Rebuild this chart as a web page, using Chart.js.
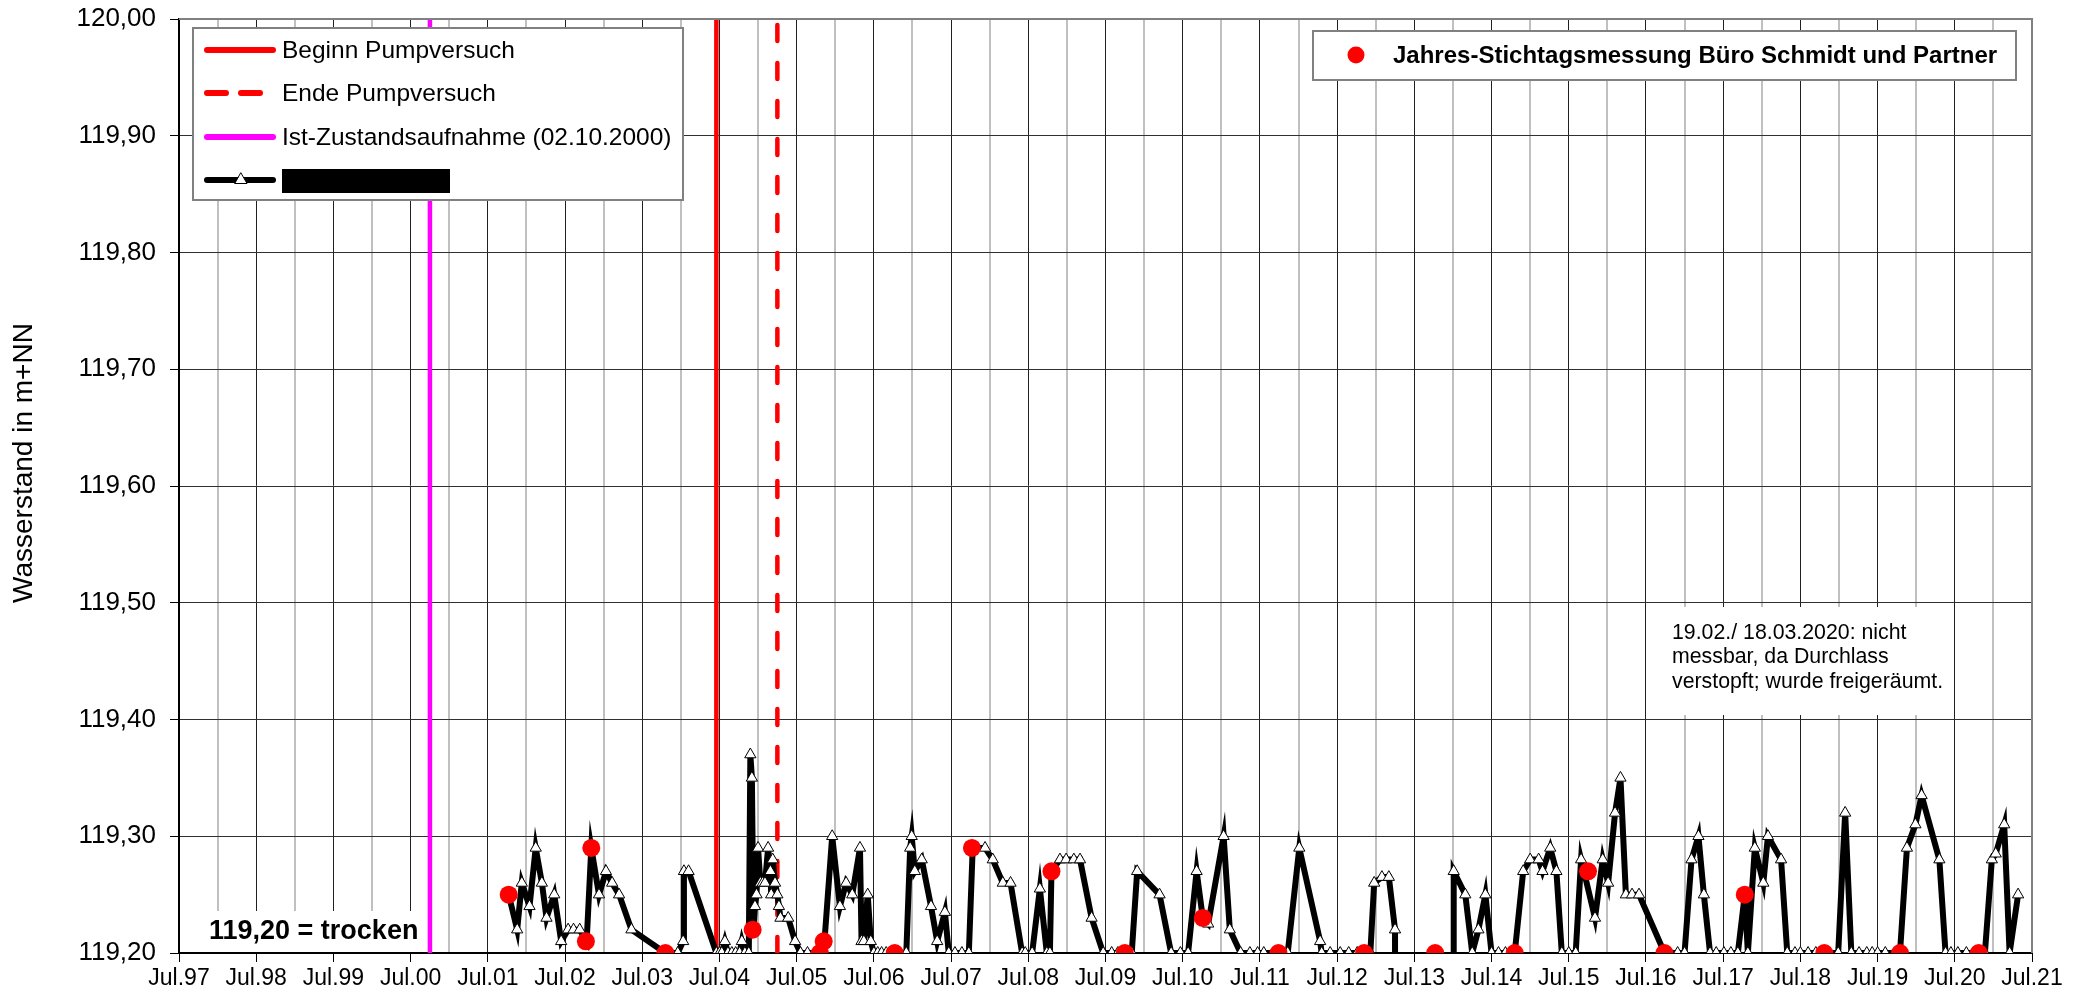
<!DOCTYPE html>
<html lang="de">
<head>
<meta charset="utf-8">
<title>Wasserstand</title>
<script src="https://cdn.jsdelivr.net/npm/chart.js@4.4.1/dist/chart.umd.min.js"></script>
<style>
  html, body { margin: 0; padding: 0; background: #fff; }
  #wrap { width: 2089px; height: 997px; }
</style>
</head>
<body>
<div id="wrap"><canvas id="chart" width="2089" height="997"></canvas></div>
<script>
// --- Daten (Datum als Dezimaljahr, Jul = x.5) ---
const messDatum = [
  2001.77, 2001.88, 2001.94, 2002.04, 2002.12, 2002.20, 2002.26, 2002.36, 2002.45, 2002.54,
  2002.61, 2002.69, 2002.78, 2002.84, 2002.94, 2003.03, 2003.11, 2003.20, 2003.36, 2003.80,
  2003.96, 2004.03, 2004.04, 2004.10, 2004.46, 2004.50, 2004.53, 2004.57, 2004.61, 2004.66,
  2004.71, 2004.76, 2004.79, 2004.83, 2004.88, 2004.90, 2004.92, 2004.94, 2004.96, 2004.98,
  2005.00, 2005.03, 2005.06, 2005.09, 2005.13, 2005.16, 2005.17, 2005.19, 2005.22, 2005.25,
  2005.27, 2005.29, 2005.39, 2005.48, 2005.55, 2005.64, 2005.80, 2005.86, 2005.96, 2006.06,
  2006.14, 2006.22, 2006.32, 2006.34, 2006.37, 2006.42, 2006.46, 2006.50, 2006.55, 2006.60,
  2006.66, 2006.78, 2006.92, 2006.97, 2006.99, 2007.03, 2007.12, 2007.24, 2007.32, 2007.42,
  2007.47, 2007.55, 2007.64, 2007.73, 2007.78, 2007.94, 2008.04, 2008.17, 2008.27, 2008.42,
  2008.46, 2008.55, 2008.65, 2008.74, 2008.78, 2008.80, 2008.91, 2008.99, 2009.09, 2009.17,
  2009.32, 2009.47, 2009.58, 2009.66, 2009.75, 2009.84, 2009.91, 2010.20, 2010.35, 2010.47,
  2010.57, 2010.68, 2010.76, 2010.83, 2011.03, 2011.11, 2011.25, 2011.37, 2011.47, 2011.55,
  2011.74, 2011.86, 2012.01, 2012.28, 2012.30, 2012.41, 2012.54, 2012.65, 2012.76, 2012.85,
  2012.93, 2012.98, 2013.08, 2013.17, 2013.25, 2013.25, 2013.60, 2014.01, 2014.01, 2014.16,
  2014.25, 2014.33, 2014.42, 2014.50, 2014.59, 2014.68, 2014.75, 2014.80, 2014.91, 2015.00,
  2015.11, 2015.16, 2015.26, 2015.34, 2015.41, 2015.50, 2015.59, 2015.66, 2015.84, 2015.94,
  2016.01, 2016.10, 2016.17, 2016.24, 2016.32, 2016.41, 2016.74, 2016.91, 2017.00, 2017.09,
  2017.18, 2017.25, 2017.33, 2017.41, 2017.51, 2017.60, 2017.69, 2017.78, 2017.82, 2017.91,
  2018.02, 2018.08, 2018.25, 2018.33, 2018.43, 2018.50, 2018.60, 2018.70, 2018.81, 2018.99,
  2019.08, 2019.16, 2019.26, 2019.36, 2019.43, 2019.50, 2019.60, 2019.79, 2019.88, 2019.99,
  2020.07, 2020.30, 2020.38, 2020.45, 2020.54, 2020.65, 2020.81, 2020.89, 2020.98, 2021.03,
  2021.14, 2021.21, 2021.32
];
const wasserstand = [
  119.25, 119.22, 119.26, 119.24, 119.29, 119.26, 119.23, 119.25, 119.21, 119.22,
  119.22, 119.22, 119.21, 119.29, 119.25, 119.27, 119.26, 119.25, 119.22, 119.20,
  119.20, 119.21, 119.27, 119.27, 119.20, 119.20, 119.20, 119.21, 119.20, 119.20,
  119.20, 119.20, 119.21, 119.20, 119.20, 119.37, 119.35, 119.22, 119.24, 119.25,
  119.29, 119.26, 119.26, 119.26, 119.29, 119.27, 119.25, 119.28, 119.26, 119.25,
  119.24, 119.23, 119.23, 119.21, 119.20, 119.20, 119.20, 119.21, 119.30, 119.24,
  119.26, 119.25, 119.29, 119.21, 119.21, 119.25, 119.21, 119.20, 119.20, 119.20,
  119.20, 119.20, 119.20, 119.29, 119.30, 119.27, 119.28, 119.24, 119.21, 119.235,
  119.20, 119.20, 119.20, 119.20, 119.29, 119.29, 119.28, 119.26, 119.26, 119.20,
  119.20, 119.20, 119.255, 119.20, 119.20, 119.27, 119.28, 119.28, 119.28, 119.28,
  119.23, 119.20, 119.20, 119.20, 119.20, 119.20, 119.27, 119.25, 119.20, 119.20,
  119.20, 119.27, 119.23, 119.225, 119.30, 119.22, 119.20, 119.20, 119.20, 119.20,
  119.20, 119.20, 119.29, 119.21, 119.20, 119.20, 119.20, 119.20, 119.20, 119.20,
  119.20, 119.26, 119.265, 119.265, 119.22, 119.20, null, 119.20, 119.27, 119.25,
  119.20, 119.22, 119.25, 119.20, 119.20, 119.20, 119.20, 119.20, 119.27, 119.28,
  119.28, 119.27, 119.29, 119.27, 119.20, 119.20, 119.20, 119.28, 119.23, 119.28,
  119.26, 119.32, 119.35, 119.25, 119.25, 119.25, 119.20, 119.20, 119.20, 119.28,
  119.30, 119.25, 119.20, 119.20, 119.20, 119.20, 119.20, 119.25, 119.20, 119.29,
  119.26, 119.30, 119.28, 119.20, 119.20, 119.20, 119.20, 119.20, 119.20, 119.20,
  119.32, 119.20, 119.20, 119.20, 119.20, 119.20, 119.20, 119.20, 119.29, 119.31,
  119.335, 119.28, 119.20, 119.20, 119.20, 119.20, 119.20, 119.20, 119.28, 119.285,
  119.31, 119.20, 119.25
];

// Jahres-Stichtagsmessung Büro Schmidt und Partner
const stichtagDatum = [
  2001.77, 2002.77, 2002.84, 2003.80, 2004.93, 2005.80, 2005.85, 2006.77, 2007.77, 2008.80,
  2009.75, 2010.76, 2011.74, 2012.85, 2013.77, 2014.80, 2015.75, 2016.74, 2017.78, 2018.81,
  2019.79, 2020.81
];
const stichtagWert = [
  119.25, 119.21, 119.29, 119.20, 119.22, 119.20, 119.21, 119.20, 119.29, 119.27,
  119.20, 119.23, 119.20, 119.20, 119.20, 119.20, 119.27, 119.20, 119.25, 119.20,
  119.20, 119.20
];

// Ereignisse (senkrechte Linien)
const istZustand = 2000.75;      // 02.10.2000
const beginnPumpversuch = 2004.46;
const endePumpversuch = 2005.25;

const yMin = 119.2, yMax = 120.0;
const xMin = 1997.5, xMax = 2021.5;

const yTitel = "Wasserstand in m+NN";
const trockenText = "119,20 = trocken";
const notizZeilen = [
  "19.02./ 18.03.2020: nicht",
  "messbar, da Durchlass",
  "verstopft; wurde freigeräumt."
];
const legendeLinks = [
  "Beginn Pumpversuch",
  "Ende Pumpversuch",
  "Ist-Zustandsaufnahme (02.10.2000)"
];
const legendeRechts = "Jahres-Stichtagsmessung Büro Schmidt und Partner";

const FONT = '"Liberation Sans", Arial, sans-serif';

// --- Datensätze aufbauen ---
const messPunkte = messDatum.map((d, i) => ({ x: d, y: wasserstand[i] }));
const stichtagPunkte = stichtagDatum.map((d, i) => ({ x: d, y: stichtagWert[i] }));
const senkrecht = (x) => [{ x: x, y: yMin }, { x: x, y: yMax }];

// Punkte am Rand einer Lücke ohne Marker
function dreieckRadius(ctx) {
  const d = ctx.dataset.data;
  const i = ctx.dataIndex;
  const vor = d[i - 1], nach = d[i + 1];
  if ((vor && vor.y === null) || (nach && nach.y === null)) return 0;
  return 6.5;
}

const istJuli = (v) => Math.abs((v % 1) - 0.5) < 1e-6;

// --- Zusätzliche Zeichnungen: Legenden, Texte, Rahmen ---
const deko = {
  id: "deko",
  beforeDatasetsDraw(chart) {
    const ctx = chart.ctx;
    ctx.save();
    ctx.fillStyle = "#fff";
    ctx.fillRect(191, 911, 236, 41);
    ctx.fillStyle = "#000";
    ctx.font = "bold 27px " + FONT;
    ctx.textBaseline = "middle";
    ctx.fillText(trockenText, 209, 932);

    ctx.fillStyle = "#fff";
    ctx.fillRect(1650, 607, 300, 108);
    ctx.fillStyle = "#000";
    ctx.font = "21.3px " + FONT;
    notizZeilen.forEach((z, i) => ctx.fillText(z, 1672, 633 + i * 24.5));
    ctx.restore();
  },
  afterDraw(chart) {
    const ctx = chart.ctx;
    const a = chart.chartArea;
    ctx.save();

    // Achsentitel
    ctx.save();
    ctx.translate(24, 463);
    ctx.rotate(-Math.PI / 2);
    ctx.fillStyle = "#000";
    ctx.font = "28px " + FONT;
    ctx.textAlign = "center";
    ctx.textBaseline = "middle";
    ctx.fillText(yTitel, 0, 0);
    ctx.restore();

    // Rahmen oben/rechts
    ctx.strokeStyle = "#808080";
    ctx.lineWidth = 2;
    ctx.beginPath();
    ctx.moveTo(a.left, a.top);
    ctx.lineTo(a.right, a.top);
    ctx.lineTo(a.right, a.bottom);
    ctx.stroke();

    // Legende links
    ctx.fillStyle = "#fff";
    ctx.fillRect(193, 28, 490, 172);
    ctx.strokeStyle = "#808080";
    ctx.lineWidth = 2;
    ctx.strokeRect(193, 28, 490, 172);

    ctx.lineCap = "round";
    ctx.lineWidth = 6;
    const zeilen = [50, 93, 137, 180];
    // Beginn Pumpversuch
    ctx.strokeStyle = "#ff0000";
    ctx.beginPath(); ctx.moveTo(207, zeilen[0]); ctx.lineTo(273, zeilen[0]); ctx.stroke();
    // Ende Pumpversuch
    ctx.setLineDash([19, 15]);
    ctx.beginPath(); ctx.moveTo(207, zeilen[1]); ctx.lineTo(265, zeilen[1]); ctx.stroke();
    ctx.setLineDash([]);
    // Ist-Zustandsaufnahme
    ctx.strokeStyle = "#ff00ff";
    ctx.beginPath(); ctx.moveTo(207, zeilen[2]); ctx.lineTo(273, zeilen[2]); ctx.stroke();
    // Messreihe
    ctx.strokeStyle = "#000";
    ctx.beginPath(); ctx.moveTo(207, zeilen[3]); ctx.lineTo(273, zeilen[3]); ctx.stroke();
    ctx.lineWidth = 1;
    ctx.fillStyle = "#fff";
    ctx.beginPath();
    ctx.moveTo(241, zeilen[3] - 7);
    ctx.lineTo(247, zeilen[3] + 3.5);
    ctx.lineTo(235, zeilen[3] + 3.5);
    ctx.closePath();
    ctx.fill(); ctx.stroke();
    ctx.fillStyle = "#000";
    ctx.fillRect(282, 169, 168, 24);

    ctx.font = "24.5px " + FONT;
    ctx.textBaseline = "middle";
    legendeLinks.forEach((t, i) => ctx.fillText(t, 282, zeilen[i] + 1));

    // Legende rechts
    ctx.fillStyle = "#fff";
    ctx.fillRect(1313, 31, 703, 49);
    ctx.strokeStyle = "#808080";
    ctx.lineWidth = 2;
    ctx.strokeRect(1313, 31, 703, 49);
    ctx.fillStyle = "#ff0000";
    ctx.beginPath(); ctx.arc(1356, 55, 8.5, 0, Math.PI * 2); ctx.fill();
    ctx.fillStyle = "#000";
    ctx.font = "bold 24px " + FONT;
    ctx.fillText(legendeRechts, 1393, 56);

    ctx.restore();
  }
};

// --- Chart ---
const ctx = document.getElementById("chart").getContext("2d");
const chart = new Chart(ctx, {
  type: "line",
  data: {
    datasets: [
      {
        label: "Stichtag",
        data: stichtagPunkte,
        showLine: false,
        pointStyle: "circle",
        pointRadius: 9,
        pointBackgroundColor: "#ff0000",
        pointBorderWidth: 0,
        order: 0
      },
      {
        label: "Messung",
        data: messPunkte,
        borderColor: "#000",
        borderWidth: 6,
        tension: 0,
        spanGaps: false,
        pointStyle: "triangle",
        pointRadius: dreieckRadius,
        pointBackgroundColor: "#fff",
        pointBorderColor: "#000",
        pointBorderWidth: 1,
        order: 1
      },
      {
        label: "Beginn Pumpversuch",
        data: senkrecht(beginnPumpversuch),
        borderColor: "#ff0000",
        borderWidth: 4.5,
        pointRadius: 0,
        order: 2
      },
      {
        label: "Ende Pumpversuch",
        data: senkrecht(endePumpversuch),
        borderColor: "#ff0000",
        borderWidth: 4.5,
        borderDash: [16, 22],
        borderCapStyle: "round",
        pointRadius: 0,
        order: 2
      },
      {
        label: "Ist-Zustandsaufnahme",
        data: senkrecht(istZustand),
        borderColor: "#ff00ff",
        borderWidth: 4.5,
        pointRadius: 0,
        order: 2
      }
    ]
  },
  options: {
    responsive: false,
    devicePixelRatio: 1,
    animation: false,
    layout: { padding: { left: 0, right: 57, top: 19, bottom: 0 } },
    plugins: {
      legend: { display: false },
      tooltip: { enabled: false }
    },
    scales: {
      x: {
        type: "linear",
        min: xMin,
        max: xMax,
        afterFit: (s) => { s.height = 44; s.paddingLeft = 0; s.paddingRight = 0; },
        ticks: {
          stepSize: 0.5,
          autoSkip: false,
          maxRotation: 0,
          padding: 3,
          color: "#000",
          font: { family: FONT, size: 23 },
          callback: (v) => (istJuli(v) ? "Jul." + String(Math.floor(v) % 100).padStart(2, "0") : "")
        },
        grid: {
          color: (c) => (istJuli(c.tick.value) ? "#202020" : "#c0c0c0"),
          lineWidth: (c) => (istJuli(c.tick.value) ? 1 : 2),
          tickColor: (c) => (istJuli(c.tick.value) ? "#000" : "rgba(0,0,0,0)"),
          tickLength: 9
        },
        border: { color: "#000", width: 2 }
      },
      y: {
        min: yMin,
        max: yMax,
        afterFit: (s) => { s.width = 179; s.paddingTop = 0; s.paddingBottom = 0; },
        ticks: {
          stepSize: 0.1,
          padding: 14,
          color: "#000",
          font: { family: FONT, size: 26 },
          callback: (v) => v.toFixed(2).replace(".", ",")
        },
        grid: { color: "#303030", lineWidth: 1, tickColor: "#000", tickLength: 9 },
        border: { color: "#000", width: 2 }
      }
    }
  },
  plugins: [deko]
});
</script>
</body>
</html>
